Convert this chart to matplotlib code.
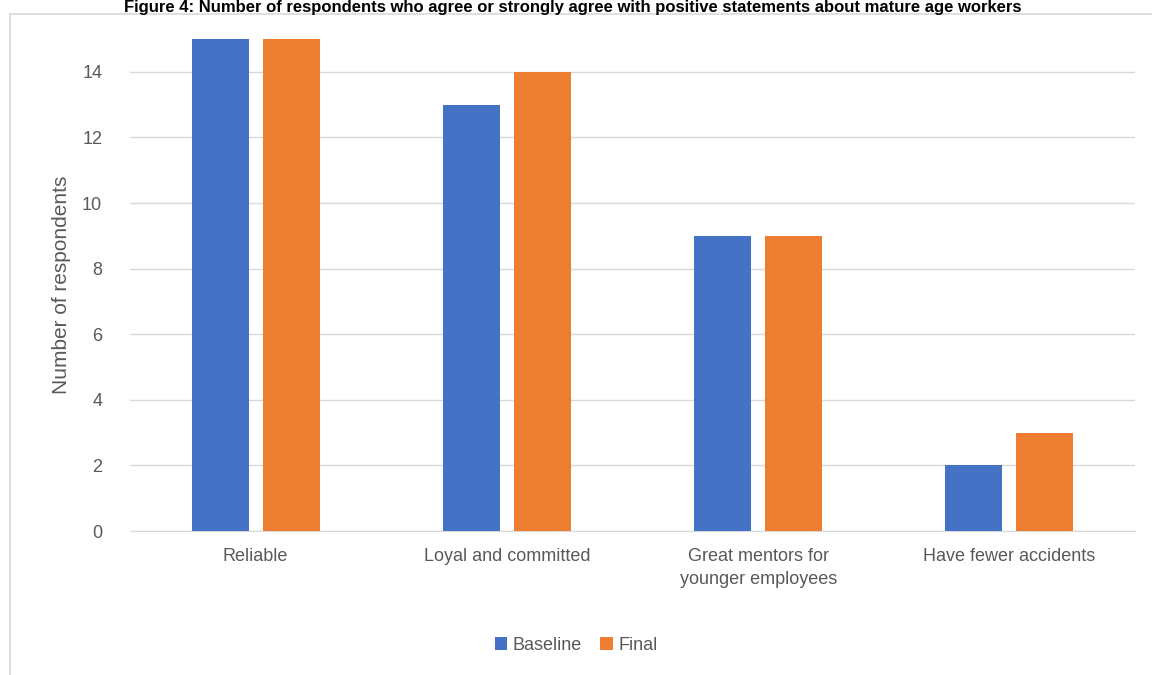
import matplotlib.pyplot as plt
from matplotlib.patches import Rectangle
import numpy as np

categories = ['Reliable', 'Loyal and committed', 'Great mentors for\nyounger employees', 'Have fewer accidents']
baseline = [15, 13, 9, 2]
final = [15, 14, 9, 3]
yticks = [0, 2, 4, 6, 8, 10, 12, 14]

plt.rcParams['font.family'] = ['Liberation Sans', 'DejaVu Sans']

fig = plt.figure(figsize=(11.52, 6.75), dpi=100)

# chart frame (partly off-canvas)
fig.patches.append(Rectangle((10 / 1152, -0.1), 1.2, 1 - 14 / 675 + 0.1,
                             transform=fig.transFigure, fill=False,
                             edgecolor='#d9d9d9', linewidth=1.2))

fig.text(0.497, 1.0, 'Figure 4: Number of respondents who agree or strongly agree with positive statements about mature age workers',
         ha='center', va='top', fontsize=12, fontweight='bold', color='black')

ax = fig.add_axes([130 / 1152, 1 - 531 / 675, 1005 / 1152, (531 - 39) / 675])

x = np.arange(len(categories))
w = 0.227
gap = 0.056
ax.bar(x - (w + gap) / 2, baseline, w, color='#4472c4', label='Baseline', zorder=3)
ax.bar(x + (w + gap) / 2, final, w, color='#ed7d31', label='Final', zorder=3)

ax.set_xlim(-0.5, len(categories) - 0.5)
ax.set_ylim(0, 15)
ax.set_yticks(yticks)
ax.set_xticks(x)
ax.set_xticklabels(categories, fontsize=13, color='#595959', linespacing=1.5)
ax.tick_params(axis='y', labelsize=13, labelcolor='#595959', length=0, pad=20)
ax.tick_params(axis='x', length=0, pad=12)
ax.grid(axis='y', color='#d9d9d9', linewidth=1, zorder=0)
for s in ['top', 'right', 'left']:
    ax.spines[s].set_visible(False)
ax.spines['bottom'].set_color('#d9d9d9')

ax.set_ylabel('Number of respondents', fontsize=15, color='#595959', labelpad=8)

ax.legend(loc='center', bbox_to_anchor=(0.5, 1 - 645 / 675), bbox_transform=fig.transFigure,
          ncol=2, frameon=False, fontsize=13, handlelength=0.7, handleheight=0.7,
          handletextpad=0.3, columnspacing=1.0, labelcolor='#595959')

fig.savefig('out.png', dpi=100)
